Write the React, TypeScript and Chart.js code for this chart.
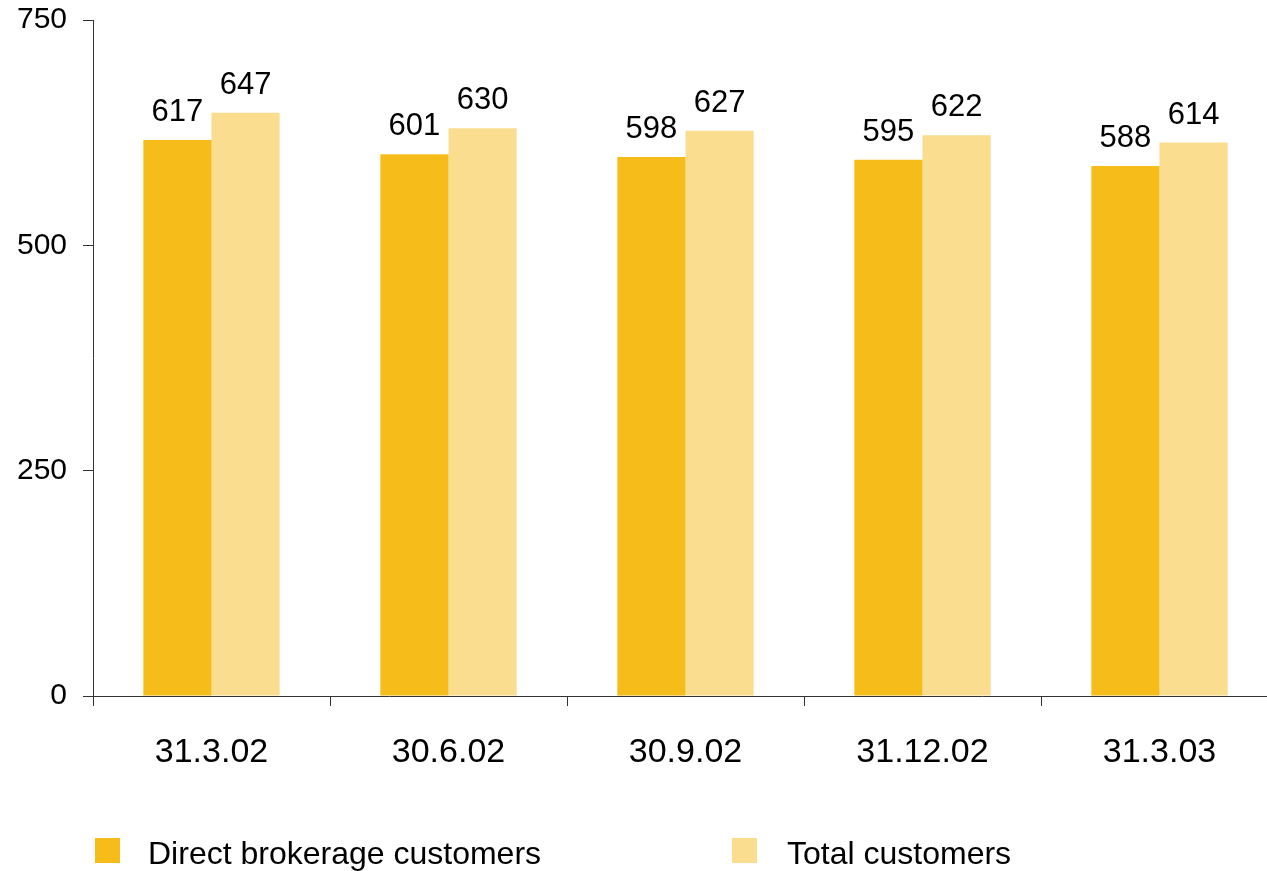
import React, { useEffect, useRef } from "react";
import { Chart, registerables } from "chart.js";

Chart.register(...registerables);

const categories = ["31.3.02", "30.6.02", "30.9.02", "31.12.02", "31.3.03"];
const directBrokerage = [617, 601, 598, 595, 588];
const totalCustomers = [647, 630, 627, 622, 614];
const seriesNames = ["Direct brokerage customers", "Total customers"];
const yMin = 0;
const yMax = 750;
const yStep = 250;

const DARK = "rgb(246,188,26)";
const LIGHT = "rgb(250,221,142)";
const FONT = "'Liberation Sans', Arial, sans-serif";

const valueLabels = {
  id: "valueLabels",
  afterDatasetsDraw(chart: any) {
    const ctx = chart.ctx;
    ctx.save();
    ctx.font = `31px ${FONT}`;
    ctx.fillStyle = "#000";
    ctx.textAlign = "center";
    ctx.textBaseline = "alphabetic";
    chart.data.datasets.forEach((ds: any, i: number) => {
      const meta = chart.getDatasetMeta(i);
      meta.data.forEach((bar: any, j: number) => {
        ctx.fillText(String(ds.data[j]), bar.x, bar.y - 19);
      });
    });
    ctx.restore();
  },
};

const customLegend = {
  id: "customLegend",
  afterDraw(chart: any) {
    const ctx = chart.ctx;
    const starts = [95, 732];
    const textGap = [53, 55];
    const y = 850;
    ctx.save();
    ctx.font = `32px ${FONT}`;
    ctx.textBaseline = "middle";
    ctx.textAlign = "left";
    chart.data.datasets.forEach((ds: any, i: number) => {
      const x = starts[i];
      ctx.fillStyle = ds.backgroundColor;
      ctx.fillRect(x, y - 12, 25, 25);
      ctx.fillStyle = "#000";
      ctx.fillText(ds.label, x + textGap[i], y + 5);
    });
    ctx.restore();
  },
};

export default function App() {
  const ref = useRef<HTMLCanvasElement>(null);
  useEffect(() => {
    if (!ref.current) return;
    const chart = new Chart(ref.current, {
      type: "bar",
      data: {
        labels: categories,
        datasets: [
          { label: seriesNames[0], data: directBrokerage, backgroundColor: DARK },
          { label: seriesNames[1], data: totalCustomers, backgroundColor: LIGHT },
        ],
      },
      options: {
        responsive: false,
        animation: false,
        devicePixelRatio: 1,
        layout: { padding: { left: 0, right: 2, top: 20, bottom: 75 } },
        datasets: { bar: { categoryPercentage: 0.575, barPercentage: 1 } },
        plugins: { legend: { display: false }, tooltip: { enabled: false } },
        scales: {
          x: {
            grid: { display: true, drawOnChartArea: false, drawTicks: true, tickLength: 10, color: "#333", offset: true },
            border: { display: true, color: "#333", width: 1 },
            ticks: { color: "#000", font: { size: 34, family: FONT }, padding: 26, maxRotation: 0 },
            afterFit(scale: any) {
              scale.height = 100;
              scale.paddingLeft = 0;
              scale.paddingRight = 0;
            },
          },
          y: {
            min: yMin,
            max: yMax,
            grid: { display: true, drawOnChartArea: false, drawTicks: true, tickLength: 10, color: "#333" },
            border: { display: true, color: "#333", width: 1 },
            ticks: { stepSize: yStep, color: "#000", font: { size: 30, family: FONT }, padding: 16 },
            afterFit(scale: any) {
              scale.width = 93;
              scale.paddingTop = 0;
              scale.paddingBottom = 0;
            },
          },
        },
      },
      plugins: [valueLabels, customLegend],
    });
    return () => chart.destroy();
  }, []);
  return (
    <div style={{ position: "absolute", left: 0, top: 0, width: 1267, height: 871, overflow: "hidden", background: "#fff" }}>
      <canvas ref={ref} width={1280} height={871} style={{ display: "block" }} />
    </div>
  );
}
